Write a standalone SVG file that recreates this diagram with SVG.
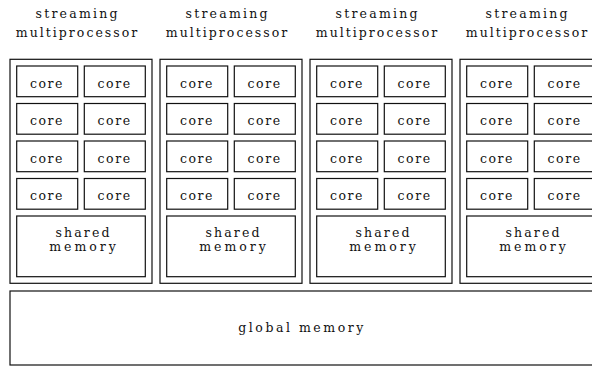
<svg xmlns="http://www.w3.org/2000/svg" width="592" height="366" viewBox="0 0 592 366">
<style>
rect{fill:#fff;stroke:#111;stroke-width:1.2}
.t{fill:#111;text-anchor:middle}
</style>
<rect x="0" y="0" width="592" height="366" style="stroke:none;fill:#fff"/>
<g id="connectors"/>
<g font-family="DejaVu Serif, serif" font-size="12.5">
<g id="sm1">
<rect x="10" y="59.3" width="142" height="224"/>
<text class="t" x="76.5" y="17.5" textLength="82" lengthAdjust="spacing">streaming</text>
<text class="t" x="76.5" y="36.5" textLength="121.5" lengthAdjust="spacing">multiprocessor</text>
<g id="sm1-core1"><rect x="16.7" y="66" width="61" height="30.7"/><text class="t" x="46.2" y="87.5" textLength="32.5" lengthAdjust="spacing">core</text></g>
<g id="sm1-core2"><rect x="84.3" y="66" width="61" height="30.7"/><text class="t" x="113.8" y="87.5" textLength="32.5" lengthAdjust="spacing">core</text></g>
<g id="sm1-core3"><rect x="16.7" y="103.5" width="61" height="30.7"/><text class="t" x="46.2" y="125" textLength="32.5" lengthAdjust="spacing">core</text></g>
<g id="sm1-core4"><rect x="84.3" y="103.5" width="61" height="30.7"/><text class="t" x="113.8" y="125" textLength="32.5" lengthAdjust="spacing">core</text></g>
<g id="sm1-core5"><rect x="16.7" y="141" width="61" height="30.7"/><text class="t" x="46.2" y="162.5" textLength="32.5" lengthAdjust="spacing">core</text></g>
<g id="sm1-core6"><rect x="84.3" y="141" width="61" height="30.7"/><text class="t" x="113.8" y="162.5" textLength="32.5" lengthAdjust="spacing">core</text></g>
<g id="sm1-core7"><rect x="16.7" y="178.5" width="61" height="30.7"/><text class="t" x="46.2" y="200" textLength="32.5" lengthAdjust="spacing">core</text></g>
<g id="sm1-core8"><rect x="84.3" y="178.5" width="61" height="30.7"/><text class="t" x="113.8" y="200" textLength="32.5" lengthAdjust="spacing">core</text></g>
<g id="sm1-shared"><rect x="16.7" y="216" width="128.6" height="60.7"/><text class="t" x="82.5" y="236.5" textLength="54" lengthAdjust="spacing">shared</text><text class="t" x="82.5" y="251" textLength="66.5" lengthAdjust="spacing">memory</text></g>
</g>
<g id="sm2" transform="translate(150,0)">
<rect x="10" y="59.3" width="142" height="224"/>
<text class="t" x="76.5" y="17.5" textLength="82" lengthAdjust="spacing">streaming</text>
<text class="t" x="76.5" y="36.5" textLength="121.5" lengthAdjust="spacing">multiprocessor</text>
<g id="sm2-core1"><rect x="16.7" y="66" width="61" height="30.7"/><text class="t" x="46.2" y="87.5" textLength="32.5" lengthAdjust="spacing">core</text></g>
<g id="sm2-core2"><rect x="84.3" y="66" width="61" height="30.7"/><text class="t" x="113.8" y="87.5" textLength="32.5" lengthAdjust="spacing">core</text></g>
<g id="sm2-core3"><rect x="16.7" y="103.5" width="61" height="30.7"/><text class="t" x="46.2" y="125" textLength="32.5" lengthAdjust="spacing">core</text></g>
<g id="sm2-core4"><rect x="84.3" y="103.5" width="61" height="30.7"/><text class="t" x="113.8" y="125" textLength="32.5" lengthAdjust="spacing">core</text></g>
<g id="sm2-core5"><rect x="16.7" y="141" width="61" height="30.7"/><text class="t" x="46.2" y="162.5" textLength="32.5" lengthAdjust="spacing">core</text></g>
<g id="sm2-core6"><rect x="84.3" y="141" width="61" height="30.7"/><text class="t" x="113.8" y="162.5" textLength="32.5" lengthAdjust="spacing">core</text></g>
<g id="sm2-core7"><rect x="16.7" y="178.5" width="61" height="30.7"/><text class="t" x="46.2" y="200" textLength="32.5" lengthAdjust="spacing">core</text></g>
<g id="sm2-core8"><rect x="84.3" y="178.5" width="61" height="30.7"/><text class="t" x="113.8" y="200" textLength="32.5" lengthAdjust="spacing">core</text></g>
<g id="sm2-shared"><rect x="16.7" y="216" width="128.6" height="60.7"/><text class="t" x="82.5" y="236.5" textLength="54" lengthAdjust="spacing">shared</text><text class="t" x="82.5" y="251" textLength="66.5" lengthAdjust="spacing">memory</text></g>
</g>
<g id="sm3" transform="translate(300,0)">
<rect x="10" y="59.3" width="142" height="224"/>
<text class="t" x="76.5" y="17.5" textLength="82" lengthAdjust="spacing">streaming</text>
<text class="t" x="76.5" y="36.5" textLength="121.5" lengthAdjust="spacing">multiprocessor</text>
<g id="sm3-core1"><rect x="16.7" y="66" width="61" height="30.7"/><text class="t" x="46.2" y="87.5" textLength="32.5" lengthAdjust="spacing">core</text></g>
<g id="sm3-core2"><rect x="84.3" y="66" width="61" height="30.7"/><text class="t" x="113.8" y="87.5" textLength="32.5" lengthAdjust="spacing">core</text></g>
<g id="sm3-core3"><rect x="16.7" y="103.5" width="61" height="30.7"/><text class="t" x="46.2" y="125" textLength="32.5" lengthAdjust="spacing">core</text></g>
<g id="sm3-core4"><rect x="84.3" y="103.5" width="61" height="30.7"/><text class="t" x="113.8" y="125" textLength="32.5" lengthAdjust="spacing">core</text></g>
<g id="sm3-core5"><rect x="16.7" y="141" width="61" height="30.7"/><text class="t" x="46.2" y="162.5" textLength="32.5" lengthAdjust="spacing">core</text></g>
<g id="sm3-core6"><rect x="84.3" y="141" width="61" height="30.7"/><text class="t" x="113.8" y="162.5" textLength="32.5" lengthAdjust="spacing">core</text></g>
<g id="sm3-core7"><rect x="16.7" y="178.5" width="61" height="30.7"/><text class="t" x="46.2" y="200" textLength="32.5" lengthAdjust="spacing">core</text></g>
<g id="sm3-core8"><rect x="84.3" y="178.5" width="61" height="30.7"/><text class="t" x="113.8" y="200" textLength="32.5" lengthAdjust="spacing">core</text></g>
<g id="sm3-shared"><rect x="16.7" y="216" width="128.6" height="60.7"/><text class="t" x="82.5" y="236.5" textLength="54" lengthAdjust="spacing">shared</text><text class="t" x="82.5" y="251" textLength="66.5" lengthAdjust="spacing">memory</text></g>
</g>
<g id="sm4" transform="translate(450,0)">
<rect x="10" y="59.3" width="142" height="224"/>
<text class="t" x="76.5" y="17.5" textLength="82" lengthAdjust="spacing">streaming</text>
<text class="t" x="76.5" y="36.5" textLength="121.5" lengthAdjust="spacing">multiprocessor</text>
<g id="sm4-core1"><rect x="16.7" y="66" width="61" height="30.7"/><text class="t" x="46.2" y="87.5" textLength="32.5" lengthAdjust="spacing">core</text></g>
<g id="sm4-core2"><rect x="84.3" y="66" width="61" height="30.7"/><text class="t" x="113.8" y="87.5" textLength="32.5" lengthAdjust="spacing">core</text></g>
<g id="sm4-core3"><rect x="16.7" y="103.5" width="61" height="30.7"/><text class="t" x="46.2" y="125" textLength="32.5" lengthAdjust="spacing">core</text></g>
<g id="sm4-core4"><rect x="84.3" y="103.5" width="61" height="30.7"/><text class="t" x="113.8" y="125" textLength="32.5" lengthAdjust="spacing">core</text></g>
<g id="sm4-core5"><rect x="16.7" y="141" width="61" height="30.7"/><text class="t" x="46.2" y="162.5" textLength="32.5" lengthAdjust="spacing">core</text></g>
<g id="sm4-core6"><rect x="84.3" y="141" width="61" height="30.7"/><text class="t" x="113.8" y="162.5" textLength="32.5" lengthAdjust="spacing">core</text></g>
<g id="sm4-core7"><rect x="16.7" y="178.5" width="61" height="30.7"/><text class="t" x="46.2" y="200" textLength="32.5" lengthAdjust="spacing">core</text></g>
<g id="sm4-core8"><rect x="84.3" y="178.5" width="61" height="30.7"/><text class="t" x="113.8" y="200" textLength="32.5" lengthAdjust="spacing">core</text></g>
<g id="sm4-shared"><rect x="16.7" y="216" width="128.6" height="60.7"/><text class="t" x="82.5" y="236.5" textLength="54" lengthAdjust="spacing">shared</text><text class="t" x="82.5" y="251" textLength="66.5" lengthAdjust="spacing">memory</text></g>
</g>
<g id="global-memory">
<rect x="10" y="291" width="600" height="74"/>
<text class="t" x="300.8" y="331.5" textLength="125" lengthAdjust="spacing">global memory</text>
</g>
</g>
</svg>
